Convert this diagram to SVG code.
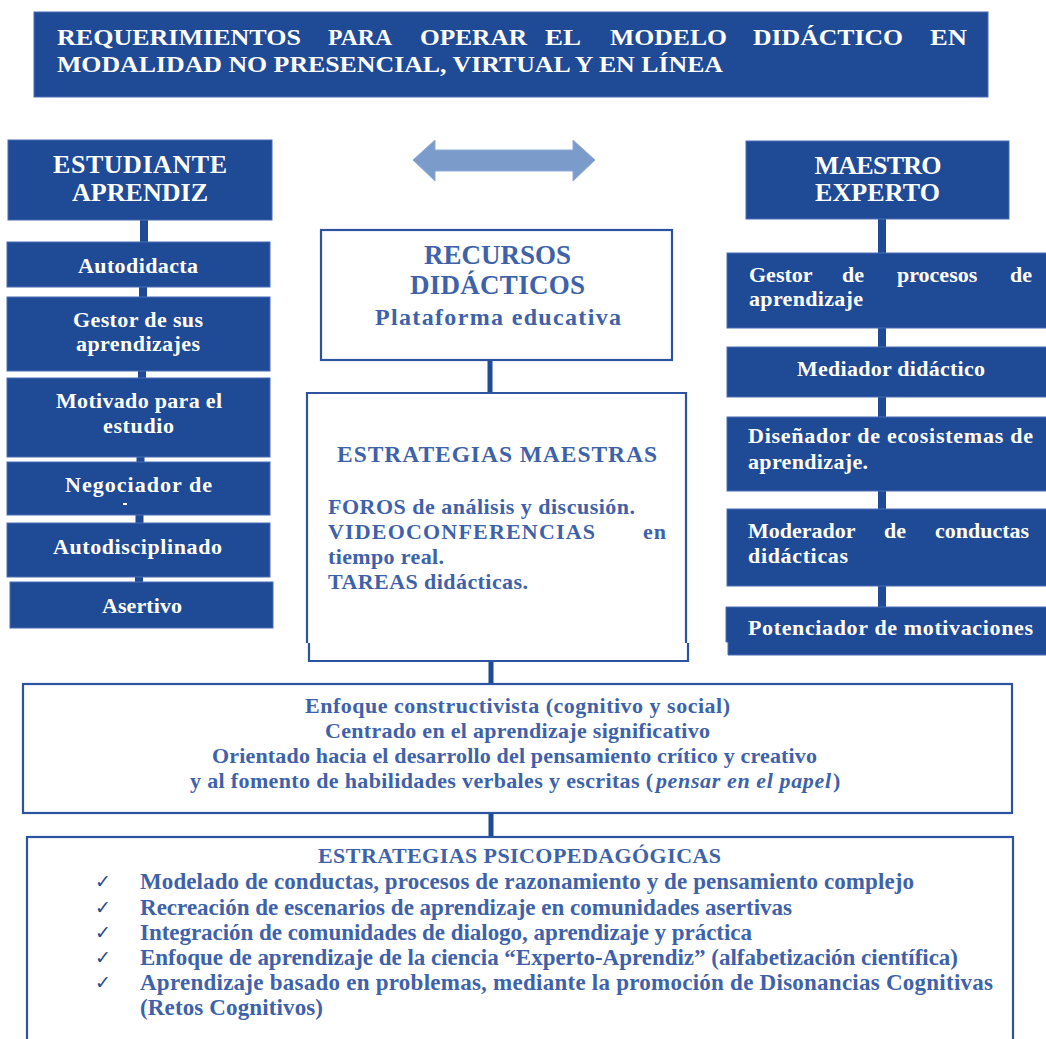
<svg xmlns="http://www.w3.org/2000/svg" width="1046" height="1039" viewBox="0 0 1046 1039">
<style>
.fill{fill:#1F4A96;stroke:#4A6DB3;stroke-width:1}
.wbox{fill:#fff;stroke:#2C53A0;stroke-width:2.2}
.con{stroke:#1F4A96;fill:none}
text{font-family:"Liberation Serif","Times New Roman",serif;font-weight:bold}
.w{fill:#fff}
.b{fill:#3E62A9}
.hd{font-size:26px}
.it{font-size:22px}
.mid{text-anchor:middle}
.ti{font-size:23.5px}
.en{font-size:22px}
.ps{font-size:23px}
.ck{font-family:"DejaVu Sans",sans-serif;font-weight:normal;font-size:19px;fill:#2B4A8C}
</style>
<rect width="1046" height="1039" fill="#fff"/>

<g id="connectors">
  <line class="con" x1="144" y1="219" x2="144" y2="243" stroke-width="8"/>
  <line class="con" x1="143" y1="286" x2="143" y2="298" stroke-width="8"/>
  <line class="con" x1="142" y1="370" x2="142" y2="379" stroke-width="8"/>
  <line class="con" x1="140.5" y1="456" x2="140.5" y2="463" stroke-width="8"/>
  <line class="con" x1="139.5" y1="514" x2="139.5" y2="524" stroke-width="8"/>
  <line class="con" x1="139" y1="576" x2="139" y2="583" stroke-width="8"/>
  <line class="con" x1="882" y1="218" x2="882" y2="608" stroke-width="8"/>
  <line class="con" x1="490" y1="360" x2="490" y2="393" stroke-width="5"/>
  <line class="con" x1="491" y1="661" x2="491" y2="684" stroke-width="5"/>
  <line class="con" x1="491" y1="813" x2="491" y2="837" stroke-width="5"/>
  <polygon points="413,160 435,140 435,150 573,150 573,140 595,160 573,181 573,171 435,171 435,181" fill="#7B9BCB" stroke="#8FABD6" stroke-width="1"/>
</g>

<g id="title">
  <rect class="fill" x="34" y="12" width="954" height="85"/>
  <text class="w ti" x="57" y="45" textLength="244" lengthAdjust="spacingAndGlyphs">REQUERIMIENTOS</text>
  <text class="w ti" x="328" y="45" textLength="64" lengthAdjust="spacingAndGlyphs">PARA</text>
  <text class="w ti" x="420" y="45" textLength="107" lengthAdjust="spacingAndGlyphs">OPERAR</text>
  <text class="w ti" x="545" y="45" textLength="36" lengthAdjust="spacingAndGlyphs">EL</text>
  <text class="w ti" x="610" y="45" textLength="117" lengthAdjust="spacingAndGlyphs">MODELO</text>
  <text class="w ti" x="753" y="45" textLength="150" lengthAdjust="spacingAndGlyphs">DIDÁCTICO</text>
  <text class="w ti" x="930" y="45" textLength="37" lengthAdjust="spacingAndGlyphs">EN</text>
  <text class="w ti" x="57" y="72" textLength="666" lengthAdjust="spacingAndGlyphs">MODALIDAD NO PRESENCIAL, VIRTUAL Y EN LÍNEA</text>
</g>

<g id="estudiante">
  <rect class="fill" x="8" y="140" width="264" height="80"/>
  <text class="w hd mid" x="140" y="173" textLength="174">ESTUDIANTE</text>
  <text class="w hd mid" x="140" y="201" textLength="136">APRENDIZ</text>
</g>
<g id="autodidacta">
  <rect class="fill" x="7" y="242" width="263" height="45"/>
  <text class="w it mid" x="138" y="273" textLength="120">Autodidacta</text>
</g>
<g id="gestor-sus">
  <rect class="fill" x="7" y="297" width="263" height="74"/>
  <text class="w it mid" x="138" y="327" textLength="130">Gestor de sus</text>
  <text class="w it mid" x="138" y="351" textLength="124">aprendizajes</text>
</g>
<g id="motivado">
  <rect class="fill" x="7" y="378" width="263" height="79"/>
  <text class="w it mid" x="139" y="408" textLength="166">Motivado para el</text>
  <text class="w it mid" x="138.5" y="433" textLength="71">estudio</text>
</g>
<g id="negociador">
  <rect class="fill" x="7" y="462" width="263" height="53"/>
  <text class="w it mid" x="138.5" y="492" textLength="147">Negociador de</text>
  <rect x="123" y="503" width="4" height="2" fill="#fff"/>
</g>
<g id="autodisciplinado">
  <rect class="fill" x="7" y="523" width="263" height="54"/>
  <text class="w it mid" x="137.5" y="554" textLength="169">Autodisciplinado</text>
</g>
<g id="asertivo">
  <rect class="fill" x="10" y="582" width="263" height="46"/>
  <text class="w it mid" x="142" y="613" textLength="80">Asertivo</text>
</g>

<g id="recursos">
  <rect class="wbox" x="321" y="230" width="351" height="130"/>
  <text class="b mid" x="497.5" y="264" font-size="27" textLength="147">RECURSOS</text>
  <text class="b mid" x="497.5" y="294" font-size="27" textLength="175">DIDÁCTICOS</text>
  <text class="b mid" x="498" y="325" font-size="24" textLength="246">Plataforma educativa</text>
</g>

<g id="estrategias-maestras">
  <path class="wbox" d="M307,643 V393 H686 V643"/>
  <path class="wbox" d="M309,643 V661 H688 V643"/>
  <text class="b mid" x="497" y="462" font-size="23.5" textLength="320">ESTRATEGIAS MAESTRAS</text>
  <text class="b" x="328" y="514" font-size="22" textLength="307">FOROS de análisis y discusión.</text>
  <text class="b" x="328" y="539" font-size="22" textLength="267">VIDEOCONFERENCIAS</text>
  <text class="b" x="643" y="539" font-size="22" textLength="23">en</text>
  <text class="b" x="328" y="564" font-size="22" textLength="116">tiempo real.</text>
  <text class="b" x="328" y="589" font-size="22" textLength="200">TAREAS didácticas.</text>
</g>

<g id="maestro">
  <rect class="fill" x="746" y="141" width="263" height="78"/>
  <text class="w hd mid" x="878" y="174" textLength="127">MAESTRO</text>
  <text class="w hd mid" x="877.5" y="201" textLength="125">EXPERTO</text>
</g>
<g id="gestor-procesos">
  <rect class="fill" x="727" y="253" width="325" height="75"/>
  <text class="w it" x="749" y="282">Gestor</text>
  <text class="w it" x="842" y="282">de</text>
  <text class="w it" x="897" y="282">procesos</text>
  <text class="w it" x="1010" y="282">de</text>
  <text class="w it" x="749" y="306" textLength="114">aprendizaje</text>
</g>
<g id="mediador">
  <rect class="fill" x="727" y="347" width="325" height="50"/>
  <text class="w it mid" x="891" y="376" textLength="188">Mediador didáctico</text>
</g>
<g id="disenador">
  <rect class="fill" x="727" y="417" width="325" height="74"/>
  <text class="w it" x="748" y="443" textLength="285">Diseñador de ecosistemas de</text>
  <text class="w it" x="748" y="469" textLength="120">aprendizaje.</text>
</g>
<g id="moderador">
  <rect class="fill" x="727" y="509" width="325" height="77"/>
  <text class="w it" x="748" y="538">Moderador</text>
  <text class="w it" x="884" y="538">de</text>
  <text class="w it" x="935" y="538">conductas</text>
  <text class="w it" x="748" y="563" textLength="100">didácticas</text>
</g>
<g id="potenciador">
  <path class="fill" d="M726,607 H1052 V655 H728 V642 H726 Z"/>
  <text class="w it" x="748" y="635" textLength="285">Potenciador de motivaciones</text>
</g>

<g id="enfoque">
  <rect class="wbox" x="23" y="684" width="989" height="129"/>
  <text class="b en mid" x="517.5" y="713" textLength="425">Enfoque constructivista (cognitivo y social)</text>
  <text class="b en mid" x="517.5" y="738" textLength="385">Centrado en el aprendizaje significativo</text>
  <text class="b en mid" x="514.5" y="763" textLength="605">Orientado hacia el desarrollo del pensamiento crítico y creativo</text>
  <text class="b en" x="190" y="788" textLength="463">y al fomento de habilidades verbales y escritas (</text>
  <text class="b en" x="656" y="788" font-style="italic" textLength="175">pensar en el papel</text>
  <text class="b en" x="833" y="788">)</text>
</g>

<g id="psicopedagogicas">
  <rect class="wbox" x="27" y="837" width="986" height="215"/>
  <text class="b mid" x="519.5" y="863" font-size="22" textLength="403">ESTRATEGIAS PSICOPEDAGÓGICAS</text>
  <text class="ck" x="95" y="888">✓</text>
  <text class="ck" x="95" y="914">✓</text>
  <text class="ck" x="95" y="939">✓</text>
  <text class="ck" x="95" y="964">✓</text>
  <text class="ck" x="95" y="989">✓</text>
  <text class="b ps" x="140" y="889" textLength="774">Modelado de conductas, procesos de razonamiento y de pensamiento complejo</text>
  <text class="b ps" x="140" y="915" textLength="652">Recreación de escenarios de aprendizaje en comunidades asertivas</text>
  <text class="b ps" x="140" y="940" textLength="612">Integración de comunidades de dialogo, aprendizaje y práctica</text>
  <text class="b ps" x="140" y="965" textLength="818">Enfoque de aprendizaje de la ciencia “Experto-Aprendiz” (alfabetización científica)</text>
  <text class="b ps" x="140" y="990" textLength="853">Aprendizaje basado en problemas, mediante la promoción de Disonancias Cognitivas</text>
  <text class="b ps" x="140" y="1015" textLength="183">(Retos Cognitivos)</text>
</g>
</svg>
